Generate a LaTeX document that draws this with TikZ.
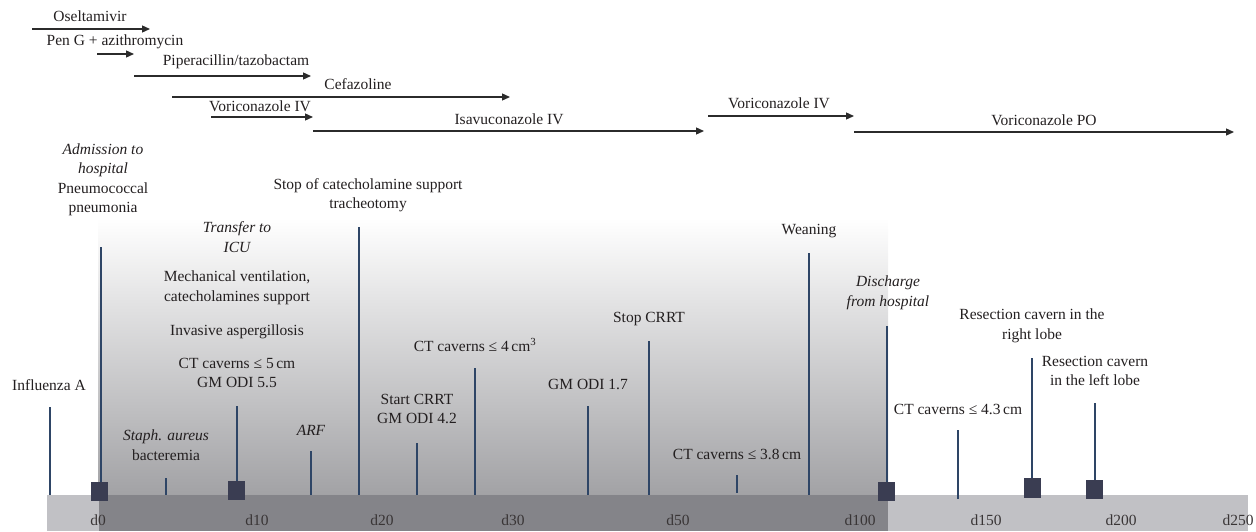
\documentclass[tikz,border=0pt]{standalone}
\usepackage{fontspec}
\setmainfont{Liberation Serif}
\usetikzlibrary{arrows.meta}
\definecolor{txt}{HTML}{231F20}
\definecolor{arr}{HTML}{2B2B2B}
\definecolor{vline}{HTML}{2E4566}
\definecolor{sq}{HTML}{3A3D52}
\definecolor{barlight}{HTML}{C1C1C5}
\definecolor{bardark}{HTML}{848489}
\definecolor{gradbot}{HTML}{A2A2A5}
\tikzset{
  lbl/.style={inner sep=0pt, align=center, text=txt, font=\fontsize{15.5}{19.5}\selectfont},
  drug/.style={line width=1.3pt, draw=arr, -{Triangle[length=8pt,width=7pt]}},
  tick/.style={line width=1.4pt, draw=vline},
  mark box/.style={fill=sq, draw=none},
}
\begin{document}
\begin{tikzpicture}[x=1pt,y=-1pt]
\useasboundingbox (0,0) rectangle (1256,531);
% background gradient and bars
\shade[top color=white, bottom color=gradbot] (98,218) rectangle (888,495);
\fill[barlight] (47,495) rectangle (1248,531);
\fill[bardark] (99,495) rectangle (888,531);

% axis labels
\foreach \xx/\ll/\nm in {98/d0/a0, 257/d10/a10, 382/d20/a20, 513/d30/a30, 678/d50/a50, 860/d100/a100, 986/d150/a150, 1121/d200/a200, 1238/d250/a250}
  \node[lbl, text=txt!90] (\nm) at (\xx,520) {\ll};

% top drug arrows
\node[lbl] (osel) at (90,16) {Oseltamivir};
\coordinate (osel1) at (32,29); \coordinate (osel2) at (150,29);
\draw[drug] (osel1) -- (osel2);
\node[lbl] (peng) at (115,42) {Pen G + azithromycin};
\coordinate (peng1) at (97,54); \coordinate (peng2) at (134,54);
\draw[drug] (peng1) -- (peng2);
\node[lbl] (pip) at (236,62) {Piperacillin/tazobactam};
\coordinate (pip1) at (134,76); \coordinate (pip2) at (311,76);
\draw[drug] (pip1) -- (pip2);
\node[lbl] (cef) at (358,84) {Cefazoline};
\coordinate (cef1) at (172,97); \coordinate (cef2) at (510,97);
\draw[drug] (cef1) -- (cef2);
\node[lbl] (vori1) at (260,106) {Voriconazole IV};
\coordinate (vori1a) at (211,117); \coordinate (vori1b) at (313,117);
\draw[drug] (vori1a) -- (vori1b);
\node[lbl] (isa) at (509,119) {Isavuconazole IV};
\coordinate (isa1) at (313,131); \coordinate (isa2) at (704,131);
\draw[drug] (isa1) -- (isa2);
\node[lbl] (vori2) at (779,103) {Voriconazole IV};
\coordinate (vori2a) at (708,116); \coordinate (vori2b) at (854,116);
\draw[drug] (vori2a) -- (vori2b);
\node[lbl] (vpo) at (1044,120) {Voriconazole PO};
\coordinate (vpo1) at (854,132); \coordinate (vpo2) at (1234,132);
\draw[drug] (vpo1) -- (vpo2);

% event ticks
\foreach \nm/\xx/\yt/\yb in {
  tInf/50/407/495, tAdm/101/247/492, tStaph/166/478/495, tCT5/237/406/490,
  tARF/311/451/495, tStop/359/227/495, tCRRT/417/443/495, tCT4/475/368/495,
  tGM/588/406/495, tSCRRT/649/341/495, tCT38/737/475/493, tWean/809/253/495,
  tDis/887/326/492, tCT43/958/430/499, tResR/1032/358/488, tResL/1095/403/490}
{
  \coordinate (\nm a) at (\xx,\yt);
  \coordinate (\nm b) at (\xx,\yb);
  \draw[tick] (\nm a) -- (\nm b);
}

% squares
\fill[mark box] (91,482) rectangle (108,501);
\fill[mark box] (228,481) rectangle (245,500);
\fill[mark box] (878,482) rectangle (895,501);
\fill[mark box] (1024,478) rectangle (1041,498);
\fill[mark box] (1086,480) rectangle (1103,499);

% event labels
\node[lbl] (inf) at (49,385) {Influenza A};
\node[lbl] (adm) at (103,180) {\itshape Admission to\\\itshape hospital\\Pneumococcal\\pneumonia};
\node[lbl] (icu) at (237,237) {\itshape Transfer to\\\itshape ICU};
\node[lbl] (mech) at (237,288) {Mechanical ventilation,\\catecholamines support};
\node[lbl] (asp) at (237,332) {Invasive aspergillosis};
\node[lbl] (ct5) at (237,373) {CT caverns ≤ 5\,cm\\GM ODI 5.5};
\node[lbl] (staph) at (166,445) {\itshape Staph. aureus\\bacteremia};
\node[lbl] (arf) at (311,430) {\itshape ARF};
\node[lbl] (stop) at (368,195) {Stop of catecholamine support\\tracheotomy};
\node[lbl] (crrt) at (417,409) {Start CRRT\\GM ODI 4.2};
\node[lbl] (ct4) at (475,345) {CT caverns ≤ 4\,cm\textsuperscript{3}};
\node[lbl] (gm) at (588,384) {GM ODI 1.7};
\node[lbl] (scrrt) at (649,319) {Stop CRRT};
\node[lbl] (ct38) at (737,454) {CT caverns ≤ 3.8\,cm};
\node[lbl] (wean) at (809,231) {Weaning};
\node[lbl] (dis) at (888,293) {\itshape Discharge\\\itshape from hospital};
\node[lbl] (ct43) at (958,409) {CT caverns ≤ 4.3\,cm};
\node[lbl] (resr) at (1032,326) {Resection cavern in the\\right lobe};
\node[lbl] (resl) at (1095,371) {Resection cavern\\in the left lobe};
\end{tikzpicture}
\end{document}
